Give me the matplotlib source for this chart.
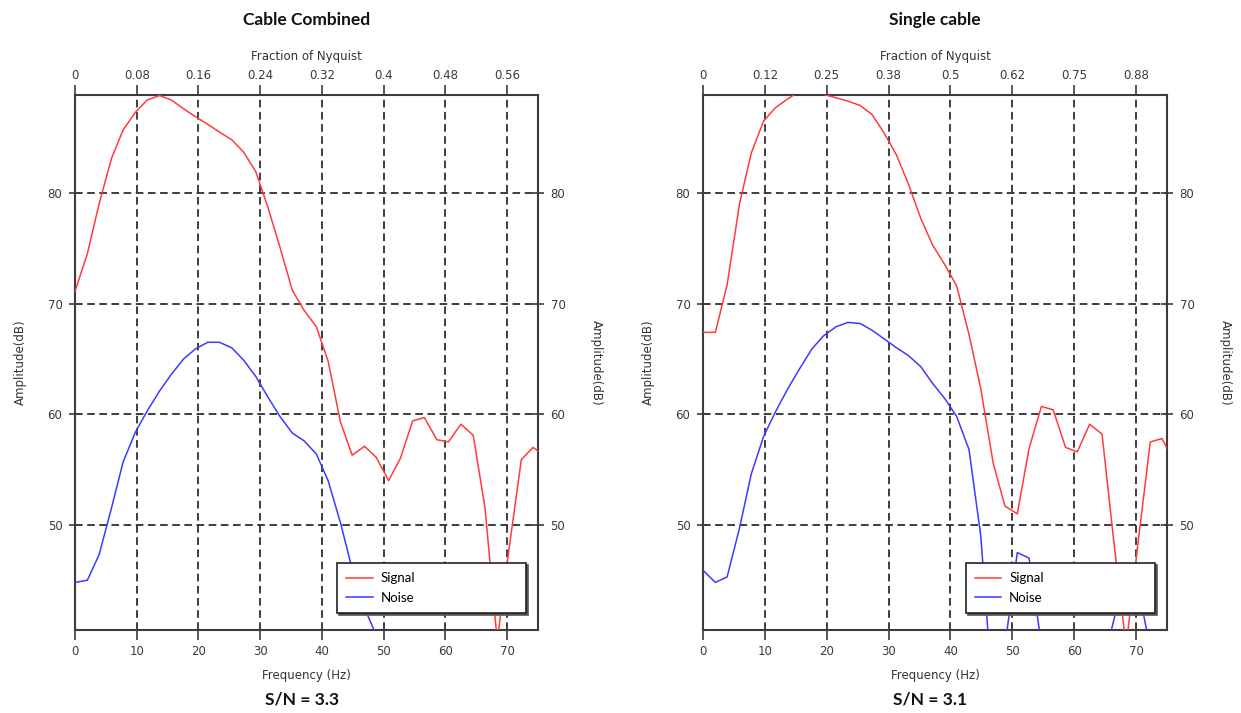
import matplotlib
matplotlib.use("Agg")
import matplotlib.pyplot as plt

# ---------------------------------------------------------------- data
panel_titles = ["Cable Combined", "Single cable"]
sn_labels = ["S/N = 3.3", "S/N = 3.1"]

freq_ticks = [0, 10, 20, 30, 40, 50, 60, 70]
nyquist_labels_combined = ["0", "0.08", "0.16", "0.24", "0.32", "0.4", "0.48", "0.56"]
nyquist_labels_single = ["0", "0.12", "0.25", "0.38", "0.5", "0.62", "0.75", "0.88"]
amp_ticks = [50, 60, 70, 80]

freq = [0, 2.0, 3.9, 5.9, 7.8, 9.8, 11.7, 13.7, 15.6, 17.6, 19.5, 21.5, 23.4,
        25.4, 27.3, 29.3, 31.3, 33.2, 35.2, 37.1, 39.1, 41.0, 43.0, 44.9, 46.9,
        48.8, 50.8, 52.7, 54.7, 56.6, 58.6, 60.5, 62.5, 64.5, 66.4, 68.4, 70.3,
        72.3, 74.2, 76.2]

signal_combined = [71.1, 74.5, 79.0, 83.1, 85.7, 87.3, 88.4, 88.8, 88.4, 87.6,
                   86.9, 86.2, 85.5, 84.8, 83.7, 81.9, 78.6, 75.1, 71.2, 69.4,
                   67.9, 64.8, 59.3, 56.3, 57.1, 56.1, 54.0, 56.0, 59.4, 59.7,
                   57.7, 57.5, 59.1, 58.1, 51.6, 39.5, 47.8, 55.9, 57.0, 56.2]

noise_freq_combined = freq[:27]
noise_combined = [44.8, 45.0, 47.3, 51.5, 55.7, 58.4, 60.3, 62.1, 63.6, 65.0,
                  65.9, 66.5, 66.5, 66.0, 64.9, 63.4, 61.5, 59.8, 58.3, 57.6,
                  56.4, 54.0, 50.2, 46.0, 42.5, 40.0, 37.5]

signal_single = [67.4, 67.4, 71.7, 79.0, 83.6, 86.5, 87.7, 88.5, 89.2, 89.3,
                 88.9, 88.6, 88.3, 87.9, 87.1, 85.4, 83.4, 80.8, 77.7, 75.3,
                 73.5, 71.6, 67.2, 62.3, 55.6, 51.7, 51.0, 56.9, 60.7, 60.4,
                 57.0, 56.6, 59.1, 58.2, 48.5, 39.0, 48.3, 57.5, 57.8, 55.6]

noise_single = [45.9, 44.8, 45.3, 49.7, 54.6, 58.0, 60.2, 62.3, 64.1, 65.9,
                67.1, 67.9, 68.3, 68.2, 67.6, 66.8, 66.0, 65.3, 64.3, 62.8,
                61.4, 59.8, 56.8, 49.0, 34.0, 39.0, 47.5, 47.0, 39.2, 36.0,
                35.0, 34.0, 35.0, 37.0, 41.4, 46.0, 44.5, 38.8, 36.0, 35.0]

panels = [
    dict(title=panel_titles[0], sn=sn_labels[0], top_labels=nyquist_labels_combined,
         sig_f=freq, sig=signal_combined, noi_f=noise_freq_combined, noi=noise_combined),
    dict(title=panel_titles[1], sn=sn_labels[1], top_labels=nyquist_labels_single,
         sig_f=freq, sig=signal_single, noi_f=freq, noi=noise_single),
]

# ---------------------------------------------------------------- style
W, H = 1241, 713
fig = plt.figure(figsize=(W / 100, H / 100), dpi=100)

TICK_COLOR = "#3a3a3a"
SPINE_COLOR = "#3c3c3c"
RED = "#ff3b3b"
BLUE = "#3b3bff"
title_font = dict(family=["Lato", "DejaVu Sans"], weight="bold", size=12.5, color="#111111")
label_font = dict(family=["DejaVu Sans"], size=8.5, color="#333333")

# axes rectangles in pixels: (left, top, right, bottom)
rects_px = [(75, 95, 538, 630), (703, 95, 1167, 630)]

for (l, t, r, b), p in zip(rects_px, panels):
    ax = fig.add_axes([l / W, 1 - b / H, (r - l) / W, (b - t) / H])
    ax.set_xlim(0, 75)
    ax.set_ylim(40.5, 88.85)

    ax.plot(p["sig_f"], p["sig"], color=RED, lw=1.1, label="Signal", zorder=3)
    ax.plot(p["noi_f"], p["noi"], color=BLUE, lw=1.1, label="Noise", zorder=3)

    ax.set_xticks(freq_ticks)
    ax.set_yticks(amp_ticks)
    ax.grid(True, color="#262626", lw=1.25, linestyle=(0, (4.4, 2.6)), zorder=1)

    for s in ax.spines.values():
        s.set_color(SPINE_COLOR)
        s.set_linewidth(1.5)

    ax.tick_params(axis="x", direction="out", length=7, width=1.2, color=SPINE_COLOR,
                   labelsize=8.5, labelcolor=TICK_COLOR, pad=4)
    ax.tick_params(axis="y", direction="inout", length=8, width=1.2, color=SPINE_COLOR,
                   labelsize=8.5, labelcolor=TICK_COLOR, pad=5)

    # top axis in fractions of Nyquist
    top = ax.secondary_xaxis("top")
    top.set_xticks(freq_ticks, p["top_labels"])
    top.tick_params(direction="out", length=7, width=1.2, color=SPINE_COLOR,
                    labelsize=8.5, labelcolor=TICK_COLOR, pad=2)
    top.spines["top"].set_visible(False)
    top.set_xlabel("Fraction of Nyquist", labelpad=7, **label_font)

    # right amplitude axis
    right = ax.secondary_yaxis("right")
    right.set_yticks(amp_ticks)
    right.tick_params(direction="inout", length=8, width=1.2, color=SPINE_COLOR,
                      labelsize=8.5, labelcolor=TICK_COLOR, pad=5)
    right.spines["right"].set_visible(False)
    right.set_ylabel("Amplitude(dB)", rotation=270, labelpad=27, **label_font)

    ax.set_xlabel("Frequency (Hz)", labelpad=8, **label_font)
    ax.set_ylabel("Amplitude(dB)", labelpad=15, **label_font)

    leg = ax.legend(loc="upper left", bbox_to_anchor=(0.566, 0.125, 0.408, 0.0),
                    mode="expand", ncol=1, frameon=True, fancybox=False,
                    framealpha=1.0, edgecolor="#222222", borderpad=0.7,
                    labelspacing=0.55, handlelength=2.0, handletextpad=0.6,
                    borderaxespad=0.0,
                    prop=dict(family=["Lato", "DejaVu Sans"], size=9.5),
                    shadow=dict(ox=1.5, oy=-1.5, color="#555555", alpha=1.0))
    leg.get_frame().set_linewidth(1.2)
    leg.set_zorder(5)

    ax.text(0.5, 1.14, p["title"], transform=ax.transAxes, ha="center",
            va="center", **title_font)
    ax.text(0.49, -0.13, p["sn"], transform=ax.transAxes, ha="center",
            va="center", **title_font)

fig.savefig("out.png", dpi=100, facecolor="white")
